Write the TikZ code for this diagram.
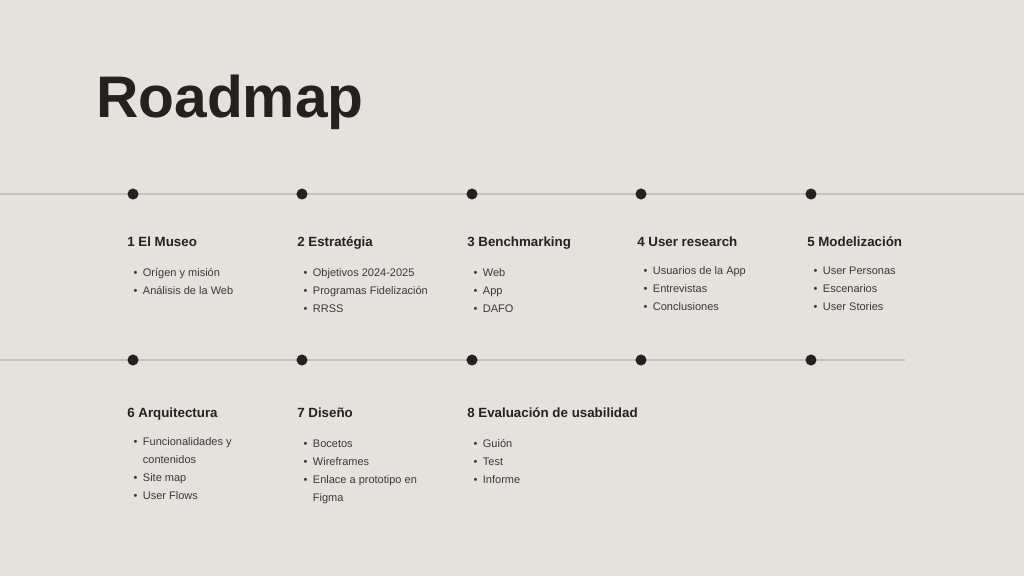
\documentclass[tikz,border=0pt]{standalone}
\usepackage{fontspec}
\setmainfont{Liberation Sans}
\definecolor{fondo}{HTML}{E4E2DD}
\definecolor{tinta}{HTML}{232220}
\definecolor{linea}{HTML}{C6C3BB}
\tikzset{
  hito/.style={circle,fill=tinta,inner sep=0pt,minimum size=8.3pt},
  fase/.style={anchor=base west,inner sep=0pt,text=tinta,font=\bfseries\fontsize{10}{12}\selectfont},
  lista/.style={anchor=north west,inner sep=0pt,align=left,text=tinta!90,font=\fontsize{8.25}{13.5}\selectfont},
  eje/.style={draw=linea,line width=0.9pt}
}
\newcommand{\pto}{\strut\makebox[8pt][l]{\hspace*{1pt}•}}
\newcommand{\sgt}{\strut\hspace*{8pt}}
\begin{document}
\begin{tikzpicture}[x=0.75pt,y=-0.75pt]
    \fill[fondo] (0,0) rectangle (1024,576);
    \useasboundingbox (0,0) rectangle (1024,576);
    \node[anchor=base west,inner sep=0pt,text=tinta,font=\bfseries\fontsize{44}{50}\selectfont] (titulo) at (96,117) {Roadmap};
    % lineas de tiempo
    \coordinate (ini1) at (0,194);
    \coordinate (fin1) at (1024,194);
    \coordinate (ini2) at (0,360);
    \coordinate (fin2) at (905,360);
    \draw [eje] (ini1) -- (fin1);
    \draw [eje] (ini2) -- (fin2);
    \node[hito] (h1) at (133,194) {};
    \node[hito] (h2) at (302,194) {};
    \node[hito] (h3) at (472,194) {};
    \node[hito] (h4) at (641,194) {};
    \node[hito] (h5) at (811,194) {};
    \node[hito] (h6) at (133,360) {};
    \node[hito] (h7) at (302,360) {};
    \node[hito] (h8) at (472,360) {};
    \node[hito] (h9) at (641,360) {};
    \node[hito] (h10) at (811,360) {};
    % fases
    \node[fase] (f1) at (127,246) {1 El Museo};
    \node[fase] (f2) at (297,246) {2 Estratégia};
    \node[fase] (f3) at (467,246) {3 Benchmarking};
    \node[fase] (f4) at (637,246) {4 User research};
    \node[fase] (f5) at (807,246) {5 Modelización};
    \node[fase] (f6) at (127,417) {6 Arquitectura};
    \node[fase] (f7) at (297,417) {7 Diseño};
    \node[fase] (f8) at (467,417) {8 Evaluación de usabilidad};
    % tareas (arriba = linea base - 12.6)
    \node[lista] (l1) at (132,263.4) {\pto Orígen y misión\\ \pto Análisis de la Web};
    \node[lista] (l2) at (302,263.4) {\pto Objetivos 2024-2025\\ \pto Programas Fidelización\\ \pto RRSS};
    \node[lista] (l3) at (472,263.4) {\pto Web\\ \pto App\\ \pto DAFO};
    \node[lista] (l4) at (642,261.4) {\pto Usuarios de la App\\ \pto Entrevistas\\ \pto Conclusiones};
    \node[lista] (l5) at (812,261.4) {\pto User Personas\\ \pto Escenarios\\ \pto User Stories};
    \node[lista] (l6) at (132,432.4) {\pto Funcionalidades y\\ \sgt contenidos\\ \pto Site map\\ \pto User Flows};
    \node[lista] (l7) at (302,434.4) {\pto Bocetos\\ \pto Wireframes\\ \pto Enlace a prototipo en\\ \sgt Figma};
    \node[lista] (l8) at (472,434.4) {\pto Guión\\ \pto Test\\ \pto Informe};
\end{tikzpicture}
\end{document}
